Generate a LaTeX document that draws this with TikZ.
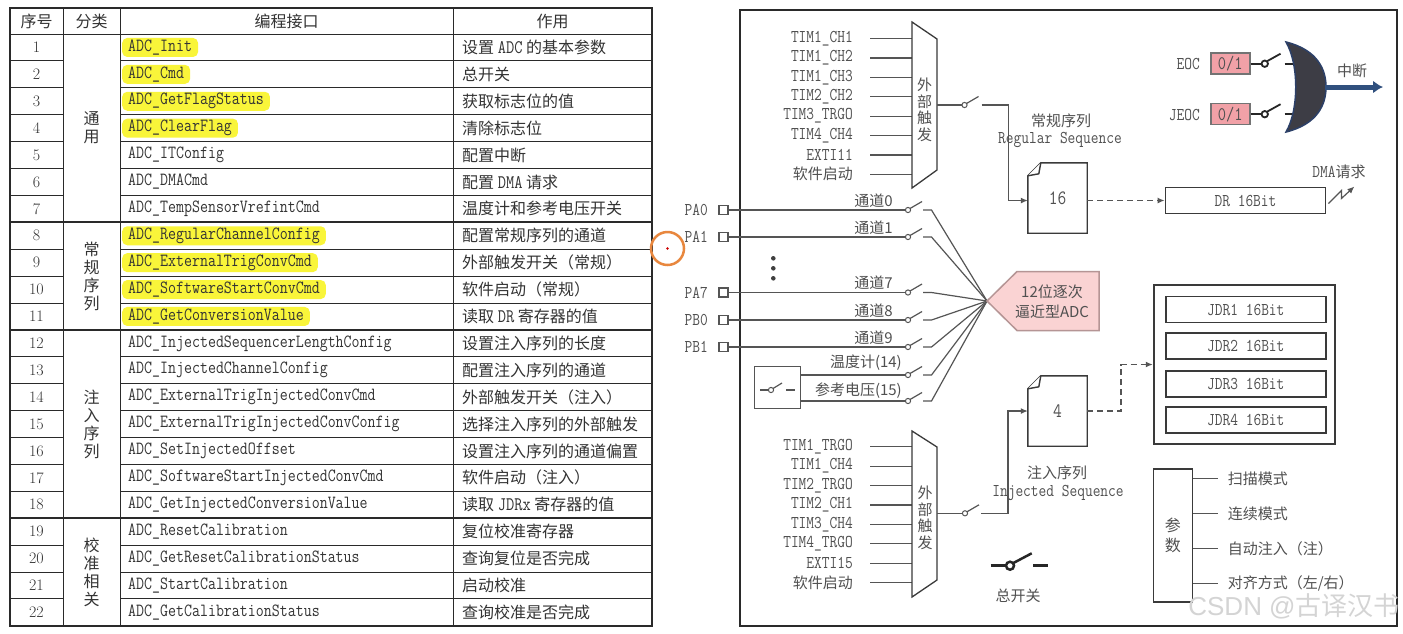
\documentclass[tikz,border=0pt]{standalone}
\usepackage{fontspec}
\usepackage{tikz}
\usetikzlibrary{calc,arrows.meta}
\newfontfamily\cjk{Noto Sans CJK SC}
\newfontfamily\wmfont{Liberation Sans}
\newcommand\tallt[1]{\scalebox{1}[1.2]{#1}}

\definecolor{tabcol}{HTML}{2A2A2A}
\definecolor{tabtext}{HTML}{333333}
\definecolor{hlyellow}{HTML}{F9F53A}
\definecolor{wirecol}{HTML}{555555}
\definecolor{lblcol}{HTML}{505050}
\definecolor{boxcol}{HTML}{3A3A3A}
\definecolor{flagpink}{HTML}{F1A1A7}
\definecolor{adcpink}{HTML}{FAD3D3}
\definecolor{adcedge}{HTML}{B59595}
\definecolor{gatefill}{HTML}{3D3D45}
\definecolor{gateedge}{HTML}{2C4068}
\definecolor{intblue}{HTML}{30507E}
\definecolor{cursorcol}{HTML}{E8873E}

\begin{document}
\begin{tikzpicture}[x=1pt,y=-1pt,>={Latex[length=7pt,width=6pt]},
  tabline/.style={draw=tabcol,line width=1pt},
  grpline/.style={draw=tabcol,line width=2pt},
  hdr/.style={font=\cjk\fontsize{16}{18}\selectfont,text=tabtext},
  num/.style={font=\rmfamily\fontsize{16}{18}\selectfont,text=tabtext},
  fname/.style={anchor=west,font=\ttfamily\fontsize{15.5}{18}\selectfont,text=tabtext,inner xsep=6pt,inner ysep=0pt,minimum height=19pt,rounded corners=5pt},
  hl/.style={fill=hlyellow},
  nohl/.style={},
  fdesc/.style={anchor=west,font=\cjk\fontsize{16}{18}\selectfont,text=tabtext,inner sep=0pt},
  catg/.style={align=center,font=\cjk\fontsize{16}{18}\selectfont,text=tabtext},
  frameline/.style={draw=tabcol,line width=1.5pt},
  wire/.style={draw=wirecol,line width=1.2pt},
  dashline/.style={draw=wirecol,line width=1.6pt,dash pattern=on 6pt off 4pt},
  swdot/.style={draw=wirecol,fill=white,line width=1pt},
  mainsw/.style={draw=black!85,line width=2.5pt},
  flagsw/.style={draw=black!85,line width=1.8pt},
  lbl/.style={font=\ttfamily\fontsize{15}{17}\selectfont,text=lblcol,inner sep=0pt},
  zhlbl/.style={font=\cjk\fontsize{15}{17}\selectfont,text=lblcol,inner sep=0pt},
  muxline/.style={draw=boxcol,fill=white,line width=1.3pt},
  muxtext/.style={align=center,font=\cjk\fontsize{15}{16.5}\selectfont,text=lblcol,inner sep=0pt},
  pinbox/.style={draw=wirecol,fill=white,line width=1.2pt,minimum size=9pt,inner sep=0pt},
  seqbox/.style={minimum width=59pt,minimum height=70pt,inner sep=0pt,font=\ttfamily\fontsize{17}{19}\selectfont,text=lblcol},
  boxline/.style={draw=boxcol,fill=white,line width=1.4pt},
  regbox/.style={draw=boxcol,line width=1.8pt,minimum width=160pt,minimum height=26pt,inner sep=0pt,font=\ttfamily\fontsize{15}{17}\selectfont,text=lblcol},
  flagbox/.style={draw=black!55,fill=flagpink,line width=1.5pt,minimum width=39pt,minimum height=21pt,inner sep=0pt,font=\ttfamily\fontsize{16}{18}\selectfont,text=lblcol},
]

\fill[white] (0,0) rectangle (1403,633);
\useasboundingbox (0,0) rectangle (1403,633);

% Table rows: number, function name, meaning.
\foreach \n/\fn/\fd/\hlflag in {
  1/ADC\_Init/设置 \texttt{\tallt{ADC}} 的基本参数/hl,
  2/ADC\_Cmd/总开关/hl,
  3/ADC\_GetFlagStatus/获取标志位的值/hl,
  4/ADC\_ClearFlag/清除标志位/hl,
  5/ADC\_ITConfig/配置中断/nohl,
  6/ADC\_DMACmd/配置 \texttt{\tallt{DMA}} 请求/nohl,
  7/ADC\_TempSensorVrefintCmd/温度计和参考电压开关/nohl,
  8/ADC\_RegularChannelConfig/配置常规序列的通道/hl,
  9/ADC\_ExternalTrigConvCmd/外部触发开关（常规）/hl,
  10/ADC\_SoftwareStartConvCmd/软件启动（常规）/hl,
  11/ADC\_GetConversionValue/读取 \texttt{\tallt{DR}} 寄存器的值/hl,
  12/ADC\_InjectedSequencerLengthConfig/设置注入序列的长度/nohl,
  13/ADC\_InjectedChannelConfig/配置注入序列的通道/nohl,
  14/ADC\_ExternalTrigInjectedConvCmd/外部触发开关（注入）/nohl,
  15/ADC\_ExternalTrigInjectedConvConfig/选择注入序列的外部触发/nohl,
  16/ADC\_SetInjectedOffset/设置注入序列的通道偏置/nohl,
  17/ADC\_SoftwareStartInjectedConvCmd/软件启动（注入）/nohl,
  18/ADC\_GetInjectedConversionValue/读取 \texttt{\tallt{JDRx}} 寄存器的值/nohl,
  19/ADC\_ResetCalibration/复位校准寄存器/nohl,
  20/ADC\_GetResetCalibrationStatus/查询复位是否完成/nohl,
  21/ADC\_StartCalibration/启动校准/nohl,
  22/ADC\_GetCalibrationStatus/查询校准是否完成/nohl} {
  \node[num] (no\n) at (36.5,{34+(\n-0.5)*26.9}) {\n};
  \node[fname,\hlflag] (fn\n) at (122,{34+(\n-0.5)*26.9}) {\tallt{\fn}};
  \node[fdesc] (fd\n) at (462,{34+(\n-0.5)*26.9}) {\fd};
}

% Draw table grid, thick lines between groups.
\draw[tabline] (63,8) -- (63,625.8) (120,8) -- (120,625.8) (453,8) -- (453,625.8);
\draw[tabline] (10,34) -- (652,34);
\foreach \n in {1,...,21}
  \draw[tabline] (10,{34+\n*26.9}) -- (63,{34+\n*26.9}) (120,{34+\n*26.9}) -- (652,{34+\n*26.9});
\foreach \n in {7,11,18}
  \draw[grpline] (10,{34+\n*26.9}) -- (652,{34+\n*26.9});
\draw[grpline] (10,8) rectangle (652,625.8);

\node[hdr] (h1) at (36.5,21) {序号};
\node[hdr] (h2) at (91.5,21) {分类};
\node[hdr] (h3) at (286.5,21) {编程接口};
\node[hdr] (h4) at (552.5,21) {作用};

\node[catg] (cat1) at (91.5,128.2) {通\\用};
\node[catg] (cat2) at (91.5,276.1) {常\\规\\序\\列};
\node[catg] (cat3) at (91.5,424) {注\\入\\序\\列};
\node[catg] (cat4) at (91.5,572) {校\\准\\相\\关};

% ADC block diagram frame.
\draw[frameline] (740,10) rectangle (1397,626);

% Regular trigger sources.
\foreach \trig [count=\k from 0] in {TIM1\_CH1,TIM1\_CH2,TIM1\_CH3,TIM2\_CH2,TIM3\_TRGO,TIM4\_CH4,EXTI11} {
  \node[lbl,anchor=east] (rt\k) at (853,{38.5+19.4*\k}) {\tallt{\trig}};
  \draw[wire] ($(rt\k.east)+(17,0)$) -- ++(42,0);
}
\node[zhlbl,anchor=east] (rt7) at (853,174.3) {软件启动};
\draw[wire] ($(rt7.east)+(17,0)$) -- ++(42,0);
\draw[muxline] (912,22) -- (937,39) -- (937,170) -- (912,188) -- cycle;
\node[muxtext] (rmux) at (924.5,110) {外\\部\\触\\发};

% Injected trigger sources.
\foreach \trig [count=\k from 0] in {TIM1\_TRGO,TIM1\_CH4,TIM2\_TRGO,TIM2\_CH1,TIM3\_CH4,TIM4\_TRGO,EXTI15} {
  \node[lbl,anchor=east] (jt\k) at (853,{446.7+19.43*\k}) {\tallt{\trig}};
  \draw[wire] ($(jt\k.east)+(17,0)$) -- ++(42,0);
}
\node[zhlbl,anchor=east] (jt7) at (853,582.7) {软件启动};
\draw[wire] ($(jt7.east)+(17,0)$) -- ++(42,0);
\draw[muxline] (912,431) -- (937,447) -- (937,580) -- (912,597) -- cycle;
\node[muxtext] (jmux) at (925,518) {外\\部\\触\\发};

% Sequence boxes and data registers.
\node[seqbox] (regseq) at (1057.5,198) {};
\draw[boxline] ($(regseq.north west)+(13,0)$) -- (regseq.north east) -- (regseq.south east) -- (regseq.south west) -- ($(regseq.north west)+(0,13)$) -- cycle;
\draw[boxline] ($(regseq.north west)+(0,13)$) -- ++(11,-2) -- ($(regseq.north west)+(13,0)$);
\node[seqbox] at (regseq) {\tallt{16}};
\node[seqbox] (injseq) at (1057.5,411) {};
\draw[boxline] ($(injseq.north west)+(13,0)$) -- (injseq.north east) -- (injseq.south east) -- (injseq.south west) -- ($(injseq.north west)+(0,13)$) -- cycle;
\draw[boxline] ($(injseq.north west)+(0,13)$) -- ++(11,-2) -- ($(injseq.north west)+(13,0)$);
\node[seqbox] at (injseq) {\tallt{4}};

\node[zhlbl] (rsl) at (1061,121) {常规序列};
\node[lbl] (rsle) at (1060,140) {\tallt{Regular Sequence}};
\node[zhlbl] (jsl) at (1057,473) {注入序列};
\node[lbl] (jsle) at (1058,493) {\tallt{Injected Sequence}};

\node[regbox] (dr) at (1245.5,200.5) {\tallt{DR 16Bit}};
\draw[dashline,->] (regseq.east |- dr.west) -- (dr.west);
\node[zhlbl] (dmal) at (1339,172) {\texttt{\tallt{DMA}}请求};
\coordinate (dmab) at ($(dr.east)+(2,3)$);
\draw[wire,->] (dmab) -- ++(13,-13) -- ++(0,8) -- ++(13,-12);

\node[draw=boxcol,line width=2pt,minimum width=181pt,minimum height=159pt] (jdrgrp) at (1244.3,364.5) {};
\foreach \k/\yy in {1/309.5,2/346.3,3/383.7,4/420.3}
  \node[regbox] (jdr\k) at (1245.8,\yy) {\tallt{JDR\k\ 16Bit}};
\draw[dashline,->] (injseq.east) -- ++(34,0) |- (jdrgrp.west);

% Trigger switches into the sequences.
\coordinate (rmuxout) at (937,105);
\coordinate (rsw) at (964.5,105);
\coordinate (rcon) at (981.5,105);
\draw[wire] (rmuxout) -- (rsw);
\draw[wire,->] (rcon) -- ++(27,0) |- (regseq.west |- dr.west);
\coordinate (jmuxout) at (937,513.3);
\coordinate (jsw) at (965,513.3);
\coordinate (jcon) at (981,513.3);
\draw[wire] (jmuxout) -- (jsw);
\draw[wire,->] (jcon) -- ++(27,0) |- (injseq.west);
\foreach \s in {rsw,jsw} {
  \draw[swdot] (\s) circle (2.6);
  \draw[wire] ($(\s)+(2,-1.5)$) -- ++(12,-7);
}

% Input channels to the ADC.
\coordinate (adctip) at (987,301);
\foreach \pin/\ch/\yy in {PA0/0/210,PA1/1/237,PA7/7/292.5,PB0/8/320,PB1/9/347} {
  \node[pinbox] (pin\ch) at (723.5,\yy) {};
  \node[lbl,anchor=east] (pl\ch) at (708,\yy) {\tallt{\pin}};
  \coordinate (sw\ch) at (908,\yy);
  \draw[wire] (pin\ch.east) -- (sw\ch);
  \node[zhlbl,anchor=east] (chl\ch) at (893,\yy-9.5) {通道\ch};
}
\foreach \yy in {258.3,268.3,278.3}
  \fill[black!75] (773.3,\yy) circle (2.3);

\node[draw=wirecol,line width=1.2pt,minimum width=46.7pt,minimum height=42pt] (tbox) at (777.5,387.7) {};
\coordinate (tsw) at (771,390);
\draw[wire] (760,390) -- (tsw);
\draw[swdot] (tsw) circle (2.6);
\draw[wire] ($(tsw)+(2,-1.5)$) -- ++(9,-5.5);
\draw[wire] (786,390) -- (795,390);

\coordinate (sw14) at (908,375);
\coordinate (sw15) at (908,401);
\draw[wire] (tbox.east |- sw14) -- (sw14);
\draw[wire] (tbox.east |- sw15) -- (sw15);
\node[zhlbl,anchor=east] (chl14) at (902,362.7) {温度计(14)};
\node[zhlbl,anchor=east] (chl15) at (902,390.7) {参考电压(15)};

\foreach \s in {0,1,7,8,9,14,15} {
  \draw[wire] ($(sw\s)+(15,0)$) -- ++(8.5,0) -- (adctip);
  \draw[swdot] (sw\s) circle (2.6);
  \draw[wire] ($(sw\s)+(2,-1.5)$) -- ++(12,-7);
}

\draw[draw=adcedge,fill=adcpink,line width=1.5pt] (adctip) -- (1017,271.5) -- (1099,271.5) -- (1099,330.5) -- (1017,330.5) -- cycle;
\node[align=center,font=\cjk\fontsize{15}{20}\selectfont,text=lblcol] (adc) at (1052,302) {12位逐次\\逼近型ADC};

% Interrupt flags and OR gate.
\node[flagbox] (eoc) at (1230.3,63.7) {\tallt{0/1}};
\node[flagbox] (jeoc) at (1230.3,114.2) {\tallt{0/1}};
\node[lbl,anchor=east] (eocl) at (1200,64.3) {\tallt{EOC}};
\node[lbl,anchor=east] (jeocl) at (1200,115) {\tallt{JEOC}};
\foreach \f in {eoc,jeoc} {
  \draw[flagsw] (\f.east) -- ++(11,0);
  \draw[flagsw,fill=white] ($(\f.east)+(14.2,0)$) circle (3.2);
  \draw[flagsw] ($(\f.east)+(16.5,-2.5)$) -- ++(13.5,-7.5);
  \draw[flagsw] ($(\f.east)+(34,0)$) -- ++(10,0);
}
\draw[draw=gateedge,fill=gatefill,line width=1.5pt] (1286,42) .. controls (1318,50) and (1326,70) .. (1326,87) .. controls (1326,104) and (1318,124) .. (1286,132) .. controls (1299,110) and (1299,64) .. (1286,42) -- cycle;
\coordinate (gateout) at (1325,87);
\draw[intblue,line width=5pt,-{Latex[length=10pt,width=13pt]}] (gateout) -- (1383,87);
\node[zhlbl] (intl) at (1352,71) {中断};

% Main switch.
\coordinate (msw) at (1010,565.7);
\draw[mainsw] ($(msw)+(-19.3,0)$) -- ($(msw)+(-4,0)$);
\draw[mainsw,fill=white] (msw) circle (4);
\draw[mainsw] ($(msw)+(3,-2.5)$) -- (1031.7,553.3);
\draw[mainsw] (1033.3,565.7) -- (1048.3,565.7);
\node[zhlbl] (mswl) at (1018,596) {总开关};

% Parameters.
\node[draw=boxcol,line width=1.5pt,minimum width=39pt,minimum height=133pt,align=center,font=\cjk\fontsize{16}{20}\selectfont,text=lblcol] (param) at (1172.8,535.5) {参\\数};
\foreach \p [count=\k from 0] in {扫描模式,连续模式,自动注入（注）,{对齐方式（左/右）}} {
  \draw[wire] ($(param.north east)+(0,10.3+35*\k)$) -- ++(24.5,0) coordinate (pt\k);
  \node[zhlbl,anchor=west] (par\k) at ($(pt\k)+(10,0)$) {\p};
}

% Watermark and cursor mark.
\node[font=\wmfont\fontsize{26}{28}\selectfont,text=black!17] (wm) at (1294,606) {CSDN @{\cjk 古译汉书}};
\draw[cursorcol,line width=2.5pt] (667.5,248.5) circle (16.5);
\fill[red!80!black] (667.5,248.5) circle (1.3);

\end{tikzpicture}
\end{document}
